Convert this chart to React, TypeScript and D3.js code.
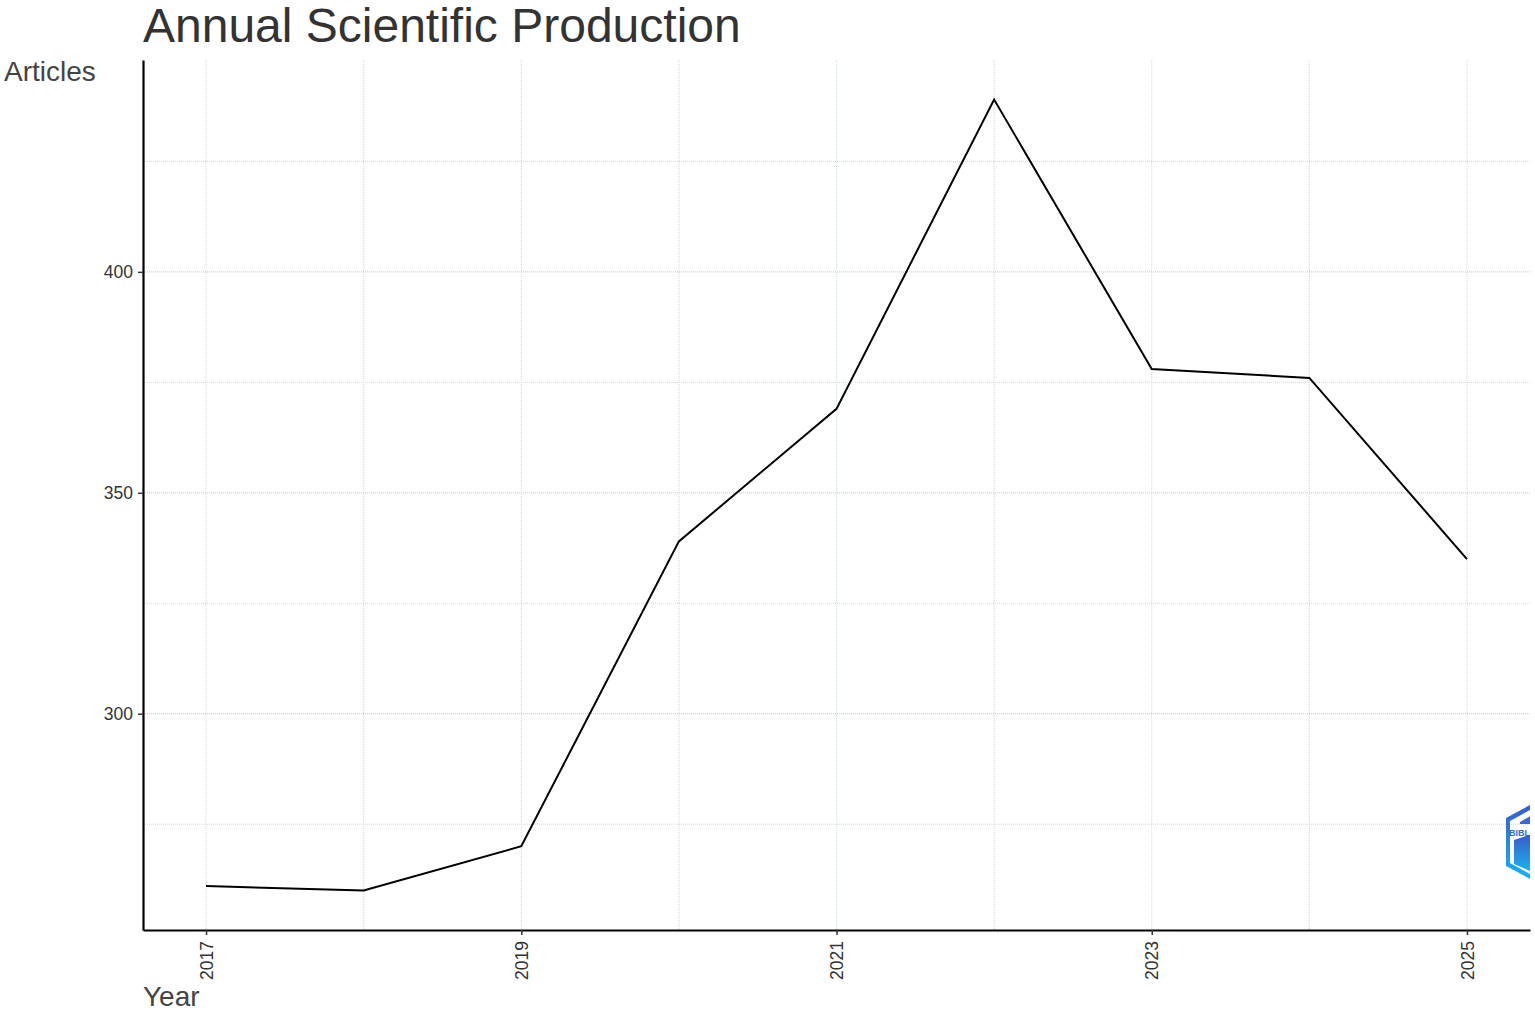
import React, { useEffect, useRef } from 'react';
import * as d3 from 'd3';

// values
const years: number[] = [2017, 2018, 2019, 2020, 2021, 2022, 2023, 2024, 2025];
const articles: number[] = [261, 260, 270, 339, 369, 439, 378, 376, 335];
const xTicks: number[] = [2017, 2019, 2021, 2023, 2025];
const yTicks: number[] = [300, 350, 400];
const yMinorTicks: number[] = [275, 325, 375, 425];

const W = 1535;
const H = 1011;

const App: React.FC = () => {
  const svgRef = useRef<SVGSVGElement | null>(null);

  useEffect(() => {
    const svg = d3.select(svgRef.current);
    svg.selectAll('*').remove();

    const left = 143;
    const right = 1530;
    const top = 60;
    const bottom = 930;

    // ggplot style 5% expansion on both axes
    const xExt = d3.extent(years) as [number, number];
    const xPad = (xExt[1] - xExt[0]) * 0.05;
    const yExt = d3.extent(articles) as [number, number];
    const yPad = (yExt[1] - yExt[0]) * 0.05;

    const xScale = d3.scaleLinear()
      .domain([xExt[0] - xPad, xExt[1] + xPad])
      .range([left, right]);

    const yScale = d3.scaleLinear()
      .domain([yExt[0] - yPad, yExt[1] + yPad])
      .range([bottom, top]);

    const font = 'Liberation Sans, Arial, sans-serif';

    // grid lines (dotted, faint)
    const grid = svg.append('g');
    grid.selectAll('line.ymin')
      .data(yMinorTicks)
      .enter()
      .append('line')
      .attr('x1', left)
      .attr('x2', right)
      .attr('y1', d => yScale(d))
      .attr('y2', d => yScale(d))
      .attr('stroke', '#d8d0e0')
      .attr('stroke-width', 1)
      .attr('stroke-dasharray', '1,1');
    grid.selectAll('line.ymaj')
      .data(yTicks)
      .enter()
      .append('line')
      .attr('x1', left)
      .attr('x2', right)
      .attr('y1', d => yScale(d))
      .attr('y2', d => yScale(d))
      .attr('stroke', '#e6c4e6')
      .attr('stroke-width', 1.2)
      .attr('stroke-dasharray', '1,1');
    grid.selectAll('line.x')
      .data(years)
      .enter()
      .append('line')
      .attr('x1', d => xScale(d))
      .attr('x2', d => xScale(d))
      .attr('y1', top)
      .attr('y2', bottom)
      .attr('stroke', (d, i) => (i % 2 === 0 ? '#cce6cc' : '#eccdec'))
      .attr('stroke-width', 1.2)
      .attr('stroke-dasharray', '1,1');

    // data line
    const line = d3.line<number>()
      .x((d, i) => xScale(years[i]))
      .y(d => yScale(d));

    svg.append('path')
      .datum(articles)
      .attr('d', line)
      .attr('fill', 'none')
      .attr('stroke', '#000')
      .attr('stroke-width', 2);

    // axes
    const xAxis = d3.axisBottom(xScale)
      .tickValues(xTicks)
      .tickFormat(d3.format('d'))
      .tickSize(5)
      .tickSizeOuter(0);
    const gx = svg.append('g')
      .attr('transform', `translate(0,${bottom})`)
      .call(xAxis);
    gx.select('.domain').attr('stroke', '#000').attr('stroke-width', 2.2);
    gx.selectAll('.tick line').attr('stroke', '#333').attr('stroke-width', 1.5);
    gx.selectAll('.tick text')
      .attr('font-family', font)
      .attr('font-size', 17.5)
      .attr('fill', '#333')
      .attr('transform', 'rotate(-90)')
      .attr('text-anchor', 'end')
      .attr('x', -11)
      .attr('y', 0)
      .attr('dy', '0.35em');

    const yAxis = d3.axisLeft(yScale)
      .tickValues(yTicks)
      .tickSize(5)
      .tickSizeOuter(0);
    const gy = svg.append('g')
      .attr('transform', `translate(${left},0)`)
      .call(yAxis);
    gy.select('.domain').attr('stroke', '#000').attr('stroke-width', 2.2);
    gy.selectAll('.tick line').attr('stroke', '#333').attr('stroke-width', 1.5);
    gy.selectAll('.tick text')
      .attr('font-family', font)
      .attr('font-size', 17.5)
      .attr('fill', '#333')
      .attr('x', -10);

    // title and axis labels
    svg.append('text')
      .attr('x', 143)
      .attr('y', 42)
      .attr('font-family', font)
      .attr('font-size', 48)
      .attr('fill', '#333')
      .text('Annual Scientific Production');

    svg.append('text')
      .attr('x', 4)
      .attr('y', 81)
      .attr('font-family', font)
      .attr('font-size', 28)
      .attr('fill', '#444')
      .text('Articles');

    svg.append('text')
      .attr('x', 143)
      .attr('y', 1006)
      .attr('font-family', font)
      .attr('font-size', 28)
      .attr('fill', '#444')
      .text('Year');

    // bibliometrix logo, cut by the panel edge
    const defs = svg.append('defs');
    const grad = defs.append('linearGradient')
      .attr('id', 'logoGrad')
      .attr('x1', 0).attr('y1', 0).attr('x2', 0).attr('y2', 1);
    grad.append('stop').attr('offset', '0%').attr('stop-color', '#3a5bc7');
    grad.append('stop').attr('offset', '100%').attr('stop-color', '#19b4f0');
    defs.append('clipPath')
      .attr('id', 'logoClip')
      .append('rect')
      .attr('x', 1490).attr('y', 790).attr('width', right - 1490).attr('height', 100);

    const logo = svg.append('g').attr('clip-path', 'url(#logoClip)');
    logo.append('path')
      .attr('d', 'M1506,818 L1532,804 L1532,809 L1510,821 L1510,863 L1532,875 L1532,880 L1506,866 Z')
      .attr('fill', 'url(#logoGrad)');
    logo.append('path')
      .attr('d', 'M1514,840 L1532,834 L1532,872 L1514,864 Z')
      .attr('fill', 'url(#logoGrad)');
    logo.append('path')
      .attr('d', 'M1520,822 L1532,815 L1532,824 L1520,824 Z')
      .attr('fill', '#3a6ad0');
    logo.append('text')
      .attr('x', 1509)
      .attr('y', 836)
      .attr('font-family', font)
      .attr('font-size', 9)
      .attr('font-weight', 'bold')
      .attr('fill', '#2a70d0')
      .text('BIBL');
  }, []);

  return (
    <svg
      ref={svgRef}
      width={W}
      height={H}
      style={{ position: 'absolute', left: 0, top: 0, background: '#fff' }}
    />
  );
};

export default App;
